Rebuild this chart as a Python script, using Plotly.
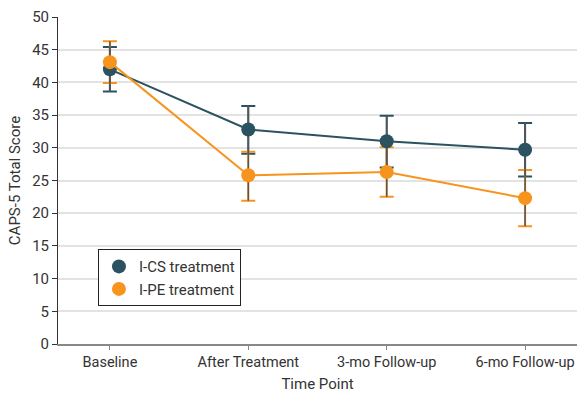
import plotly.graph_objects as go

categories = ["Baseline", "After Treatment", "3-mo Follow-up", "6-mo Follow-up"]
ics_mean = [42.0, 32.8, 31.0, 29.7]
ics_upper = [45.4, 36.4, 34.9, 33.8]
ics_lower = [38.6, 29.1, 27.0, 25.6]
ipe_mean = [43.1, 25.8, 26.3, 22.3]
ipe_upper = [46.3, 29.4, 30.1, 26.6]
ipe_lower = [39.9, 21.9, 22.5, 18.0]

xpos = list(range(len(categories)))
ICS_COLOR = "#2b5260"
IPE_COLOR = "#f7941d"
STEM = "#555555"
FONT = "Roboto"

fig = go.Figure()

series = [
    ("I-CS treatment", ics_mean, ics_upper, ics_lower, ICS_COLOR),
    ("I-PE treatment", ipe_mean, ipe_upper, ipe_lower, IPE_COLOR),
]

# colored caps
for name, m, up, lo, c in series:
    fig.add_trace(go.Scatter(
        x=xpos, y=m, mode="markers", marker=dict(size=1, color="rgba(0,0,0,0)"),
        error_y=dict(type="data", symmetric=False,
                     array=[u - v for u, v in zip(up, m)],
                     arrayminus=[v - l for v, l in zip(m, lo)],
                     color=c, thickness=2, width=7),
        showlegend=False, hoverinfo="skip"))
# gray stems
for name, m, up, lo, c in series:
    fig.add_trace(go.Scatter(
        x=xpos, y=m, mode="markers", marker=dict(size=1, color="rgba(0,0,0,0)"),
        error_y=dict(type="data", symmetric=False,
                     array=[u - v for u, v in zip(up, m)],
                     arrayminus=[v - l for v, l in zip(m, lo)],
                     color=STEM, thickness=1.5, width=0),
        showlegend=False, hoverinfo="skip"))
# lines and markers
for name, m, up, lo, c in series:
    fig.add_trace(go.Scatter(
        x=xpos, y=m, mode="lines", line=dict(color=c, width=2),
        showlegend=False, hoverinfo="skip"))
    fig.add_trace(go.Scatter(
        x=xpos, y=m, mode="markers", name=name,
        marker=dict(size=14, color=c)))

fig.update_layout(
    width=577, height=393,
    margin=dict(l=58, r=0, t=17, b=49),
    plot_bgcolor="white", paper_bgcolor="white",
    font=dict(family=FONT, size=15, color="#333333"),
    showlegend=True,
    legend=dict(x=0.077, y=0.29, xanchor="left", yanchor="top",
                bordercolor="#222222", borderwidth=1, bgcolor="white",
                font=dict(size=15, family=FONT), tracegroupgap=0,
                itemwidth=30),
    xaxis=dict(range=[-0.375, 3.375], tickmode="array", tickvals=xpos,
               ticktext=categories, showgrid=False, zeroline=False,
               showline=True, linecolor="#888888", linewidth=1.5,
               ticks="outside", ticklen=4, tickcolor="#888888",
               tickfont=dict(size=14.5),
               title=dict(text="Time Point", standoff=10, font=dict(size=15)),
               automargin=False),
    yaxis=dict(range=[0, 50], tick0=0, dtick=5, showgrid=True,
               gridcolor="#e3e3e3", gridwidth=1.5, zeroline=False,
               showline=True, linecolor="#333333", linewidth=1,
               ticks="outside", ticklen=5, tickcolor="#333333",
               tickfont=dict(size=15),
               title=dict(text="CAPS-5 Total Score", standoff=7, font=dict(size=15)),
               automargin=False),
)

fig.write_html(
    "out.html",
    config={"displayModeBar": False},
    post_script="document.body.style.margin='0';document.documentElement.style.overflow='hidden';",
)
